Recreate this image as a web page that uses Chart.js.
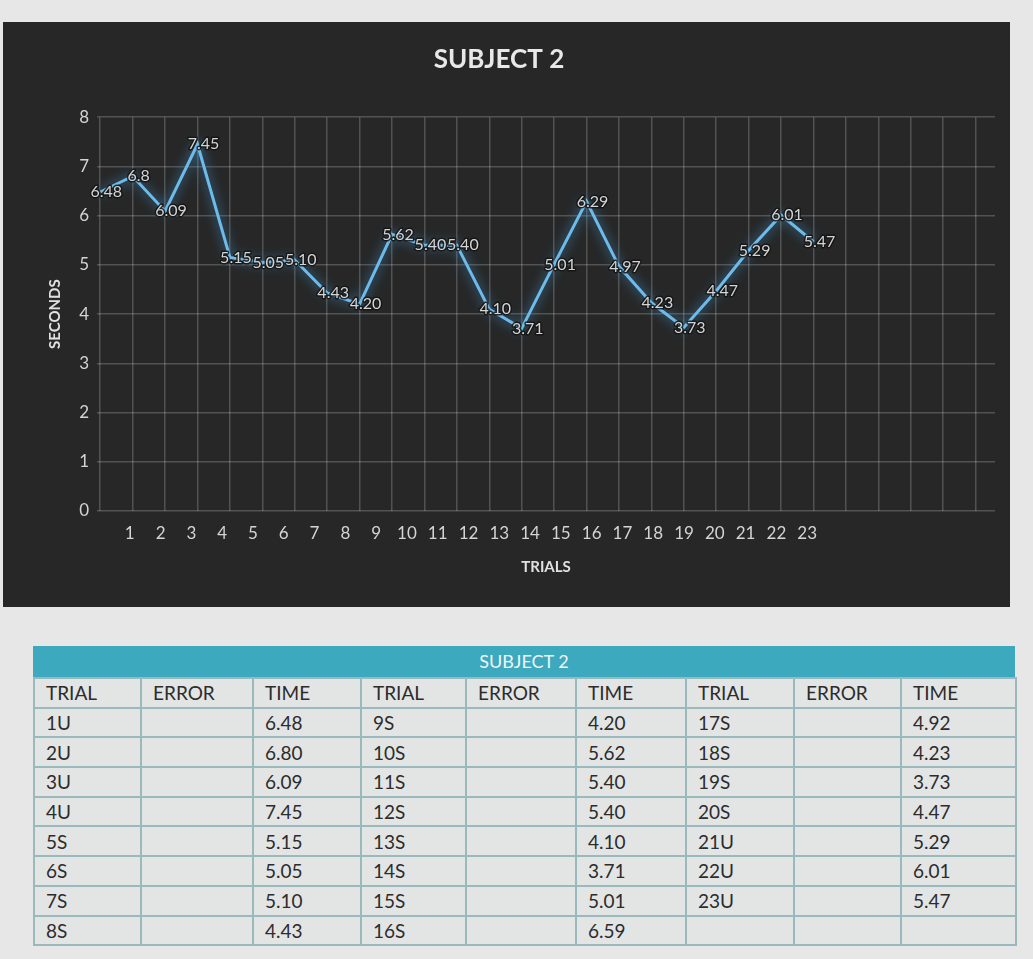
<!DOCTYPE html>
<html>
<head>
<meta charset="utf-8">
<title>Subject 2</title>
<script src="https://cdn.jsdelivr.net/npm/chart.js@4.4.1/dist/chart.umd.min.js"></script>
<style>
  body { margin: 0; background: #e6e7e6; font-family: Lato, "Open Sans", sans-serif; }
  #panel { position: absolute; left: 3px; top: 22px; width: 1007px; height: 585px; background: #272727; }
  #grid { position: absolute; left: 33px; top: 646px; width: 982px; }
  #grid .bar { height: 31px; background: #3ca9bf; color: #f0f6f7; font-size: 18px; line-height: 31px; text-align: center; }
  table { border-collapse: collapse; width: 982px; table-layout: fixed; }
  td { border: 2px solid #9ab9bd; background: #e3e5e5; color: #2c2c2c; font-size: 19px; height: 27.7px; padding: 0 0 0 11px; line-height: 27px; }
</style>
</head>
<body>
<div id="panel"><canvas id="chart" width="1007" height="585"></canvas></div>
<div id="grid">
  <div class="bar">SUBJECT 2</div>
  <table id="tbl"></table>
</div>
<script>
// chart values (as labelled on the plot)
const trials = [1, 2, 3, 4, 5, 6, 7, 8, 9, 10, 11, 12, 13, 14, 15, 16, 17, 18, 19, 20, 21, 22, 23];
const seconds = [6.48, 6.8, 6.09, 7.45, 5.15, 5.05, 5.10, 4.43, 4.20, 5.62, 5.40, 5.40, 4.10, 3.71, 5.01, 6.29, 4.97, 4.23, 3.73, 4.47, 5.29, 6.01, 5.47];
const pointLabels = ['6.48', '6.8', '6.09', '7.45', '5.15', '5.05', '5.10', '4.43', '4.20', '5.62', '5.40', '5.40', '4.10', '3.71', '5.01', '6.29', '4.97', '4.23', '3.73', '4.47', '5.29', '6.01', '5.47'];
const yTicks = [0, 1, 2, 3, 4, 5, 6, 7, 8];

// table values (as typed in the sheet)
const tableTrial = ['1U', '2U', '3U', '4U', '5S', '6S', '7S', '8S', '9S', '10S', '11S', '12S', '13S', '14S', '15S', '16S', '17S', '18S', '19S', '20S', '21U', '22U', '23U'];
const tableTime = ['6.48', '6.80', '6.09', '7.45', '5.15', '5.05', '5.10', '4.43', '4.20', '5.62', '5.40', '5.40', '4.10', '3.71', '5.01', '6.59', '4.92', '4.23', '3.73', '4.47', '5.29', '6.01', '5.47'];
const headers = ['TRIAL', 'ERROR', 'TIME'];
const colWidths = [107, 112, 108, 105, 110, 110, 108, 107, 115];

// build the table
const tbl = document.getElementById('tbl');
let html = '<colgroup>' + colWidths.map(w => '<col style="width:' + w + 'px">').join('') + '</colgroup>';
html += '<tr>' + [0, 1, 2].map(() => headers.map(h => '<td>' + h + '</td>').join('')).join('') + '</tr>';
for (let r = 0; r < 8; r++) {
  html += '<tr>';
  for (let block = 0; block < 3; block++) {
    const i = block * 8 + r;
    const has = i < tableTrial.length;
    html += '<td>' + (has ? tableTrial[i] : '') + '</td><td></td><td>' + (has ? tableTime[i] : '') + '</td>';
  }
  html += '</tr>';
}
tbl.innerHTML = html;

const fontFamily = "Lato, 'Open Sans', sans-serif";
const textColor = '#d4d4d4';

// glow under the line, then the value labels on top
const glowLine = {
  id: 'glowLine',
  beforeDatasetsDraw(chart) {
    const ctx = chart.ctx;
    ctx.save();
    ctx.shadowColor = 'rgba(70, 165, 230, 0.9)';
    ctx.shadowBlur = 12;
  },
  afterDatasetsDraw(chart) {
    const ctx = chart.ctx;
    ctx.restore();
    const meta = chart.getDatasetMeta(0);
    ctx.save();
    ctx.font = '16px ' + fontFamily;
    ctx.textAlign = 'center';
    ctx.textBaseline = 'middle';
    ctx.lineJoin = 'round';
    meta.data.forEach((pt, i) => {
      ctx.lineWidth = 3;
      ctx.strokeStyle = 'rgba(20, 20, 20, 0.85)';
      ctx.strokeText(pointLabels[i], pt.x + 6, pt.y);
      ctx.fillStyle = textColor;
      ctx.fillText(pointLabels[i], pt.x + 6, pt.y);
    });
    ctx.restore();
  }
};

new Chart(document.getElementById('chart'), {
  type: 'line',
  data: {
    datasets: [{
      label: 'Seconds',
      data: trials.map((t, i) => ({ x: t, y: seconds[i] })),
      borderColor: '#6dbbea',
      borderWidth: 3,
      pointRadius: 0,
      tension: 0
    }]
  },
  options: {
    responsive: false,
    animation: false,
    layout: { padding: { left: 0, right: 15, top: 0, bottom: 0 } },
    plugins: {
      legend: { display: false },
      tooltip: { enabled: false },
      title: {
        display: true,
        text: 'SUBJECT 2',
        color: '#e8e8e8',
        font: { family: fontFamily, size: 26, weight: 'bold' },
        padding: { top: 22, bottom: 42 }
      }
    },
    scales: {
      x: {
        type: 'linear',
        position: 'bottom',
        weight: 0,
        min: 0.9,
        max: 28.6,
        ticks: { display: false, stepSize: 1, includeBounds: false },
        grid: { color: 'rgba(255, 255, 255, 0.2)', lineWidth: 1.5, drawTicks: false },
        border: { display: false },
        afterFit: s => { s.height = 0; }
      },
      xl: {
        type: 'linear',
        position: 'bottom',
        weight: 1,
        min: -0.065,
        max: 29.1,
        afterBuildTicks: s => { s.ticks = trials.map(v => ({ value: v })); },
        ticks: { color: textColor, font: { family: fontFamily, size: 17 }, padding: 12, maxRotation: 0, autoSkip: false },
        grid: { display: false, drawTicks: false },
        border: { display: false },
        title: {
          display: true,
          text: 'TRIALS',
          color: '#e0e0e0',
          font: { family: fontFamily, size: 15, weight: 'bold' },
          padding: { top: 0, bottom: 31 }
        },
        afterFit: s => { s.height = 96; }
      },
      y: {
        min: 0,
        max: 8,
        afterBuildTicks: s => { s.ticks = yTicks.map(v => ({ value: v })); },
        ticks: { color: textColor, font: { family: fontFamily, size: 17 }, padding: 8 },
        grid: { color: 'rgba(255, 255, 255, 0.2)', lineWidth: 1.5, drawTicks: false },
        border: { display: false },
        title: {
          display: true,
          text: 'SECONDS',
          color: '#e0e0e0',
          font: { family: fontFamily, size: 15, weight: 'bold' },
          padding: { top: 43, bottom: 0 }
        },
        afterFit: s => { s.width = 94; }
      }
    }
  },
  plugins: [glowLine]
});
</script>
</body>
</html>
